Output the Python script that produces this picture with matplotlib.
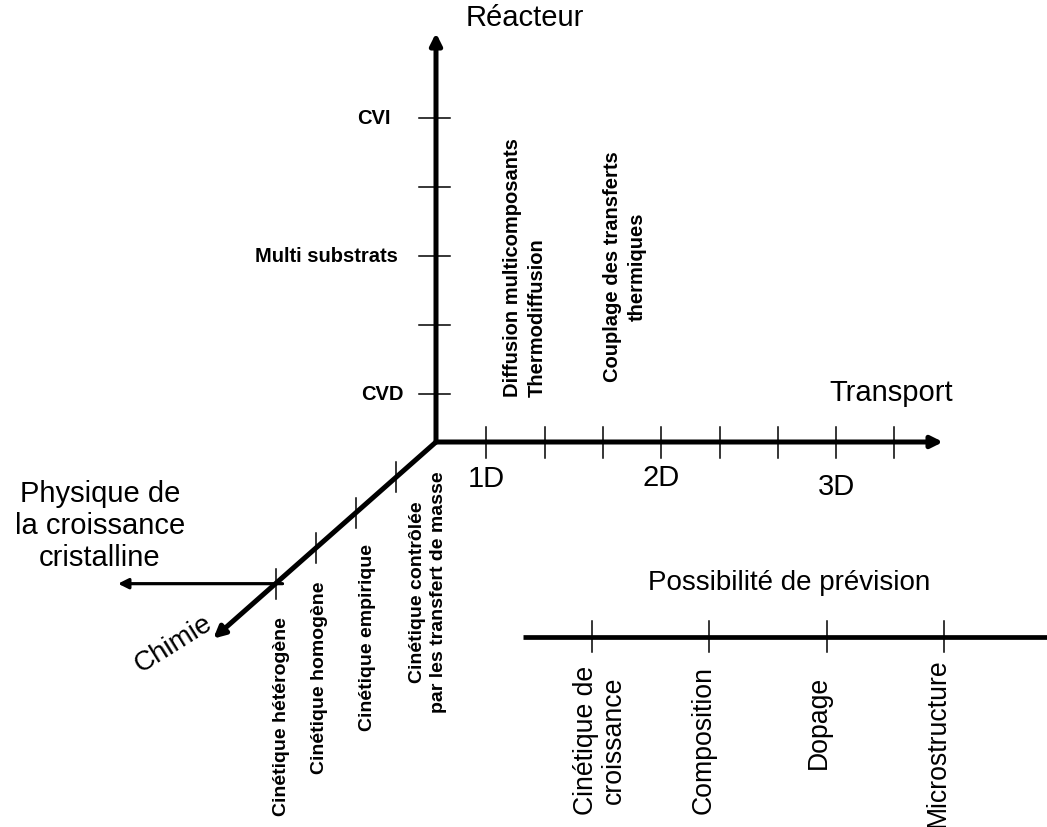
import numpy as np
import matplotlib
matplotlib.use("Agg")
import matplotlib.pyplot as plt

plt.rcParams['font.family'] = ['Liberation Sans', 'DejaVu Sans']

# axis labels (reading order along each axis, starting from the origin)
reacteur_ticks = [1, 2, 3, 4, 5]
reacteur_labels = ['CVD', '', 'Multi substrats', '', 'CVI']
transport_ticks = [1, 2, 3, 4, 5, 6, 7, 8]
transport_labels = ['1D', '', '', '2D', '', '', '3D', '']
chimie_ticks = [1, 2, 3, 4]
chimie_labels = ['Cinétique contrôlée\npar les transfert de masse', 'Cinétique empirique',
                 'Cinétique homogène', 'Cinétique hétérogène']
transport_notes = ['Diffusion multicomposants\nThermodiffusion',
                   'Couplage des transferts\nthermiques']
prevision_ticks = [1, 2, 3, 4]
prevision_labels = ['Cinétique de\ncroissance', 'Composition', 'Dopage', 'Microstructure']

W, H = 1047, 828
origin = np.array([436.0, 443.0])


def arrow(ax, start, end, lw, ms):
    ax.annotate('', xy=end, xytext=start,
                arrowprops=dict(arrowstyle='-|>', lw=lw, color='k',
                                mutation_scale=ms, shrinkA=0, shrinkB=0))


def draw_axes(ax):
    # Réacteur (vertical)
    arrow(ax, origin, (origin[0], 34), 3.6, 17)
    ry = origin[1] - (-21 + 69 * np.array(reacteur_ticks))
    for y in ry:
        ax.plot([origin[0] - 17, origin[0] + 14], [y, y], color='k', lw=1.1)
    label_right = [404, None, 398, None, 391]
    for y, lab, xr in zip(ry, reacteur_labels, label_right):
        if lab:
            ax.text(xr, y, lab, ha='right', va='center', fontsize=14.5, fontweight='bold')
    ax.text(525, 18, 'Réacteur', ha='center', va='center', fontsize=21)

    # Transport (horizontal)
    arrow(ax, origin, (943, origin[1]), 3.6, 17)
    tx = origin[0] + (-8 + 58.3 * np.array(transport_ticks))
    for x in tx:
        ax.plot([x, x], [origin[1] - 15, origin[1] + 16], color='k', lw=1.1)
    label_y = [479, None, None, 478, None, None, 487, None]
    for x, lab, y in zip(tx, transport_labels, label_y):
        if lab:
            ax.text(x, y, lab, ha='center', va='center', fontsize=21)
    ax.text(891, 393, 'Transport', ha='center', va='center', fontsize=21)
    ax.text(525, 397, transport_notes[0], rotation=90, ha='center', va='bottom',
            multialignment='left', fontsize=14.5, fontweight='bold', linespacing=1.4)
    ax.text(625, 267, transport_notes[1], rotation=90, ha='center', va='center',
            multialignment='center', fontsize=14.5, fontweight='bold', linespacing=1.4)

    # Chimie (diagonal)
    d = np.array([-0.75, 0.662])
    tip = origin + d * 297
    arrow(ax, origin, tip, 3.6, 17)
    cpts = [origin + d * 53.5 * t for t in chimie_ticks]
    for p in cpts:
        ax.plot([p[0], p[0]], [p[1] - 15, p[1] + 15], color='k', lw=1.1)
    # Physique de la croissance cristalline leaves from the last tick
    last = cpts[-1]
    ax.plot([last[0] - 20, last[0] + 7], [last[1], last[1]], color='k', lw=1.1)
    arrow(ax, (last[0] + 7, last[1]), (118, last[1]), 2.3, 15)
    ax.text(100, 526, 'Physique de\nla croissance\ncristalline', ha='center', va='center',
            fontsize=21, linespacing=1.2)
    ax.text(174, 644, 'Chimie', rotation=32, ha='center', va='center', fontsize=20)
    label_pos = [(428, 592), (368, 638), (320, 678), (282, 717)]
    for (x, y), lab in zip(label_pos, chimie_labels):
        ax.text(x, y, lab, rotation=90, ha='center', va='center', multialignment='center',
                fontsize=14, fontweight='bold', linespacing=1.35)


def draw_prevision(ax):
    y0 = 638
    ax.plot([523, W], [y0, y0], color='k', lw=3.4, solid_capstyle='butt')
    px = 592 + 117.3 * (np.array(prevision_ticks) - 1)
    for x in px:
        ax.plot([x, x], [y0 - 16, y0 + 15], color='k', lw=1.1)
    ax.text(789, 583, 'Possibilité de prévision', ha='center', va='center', fontsize=20)
    label_pos = [(600, 740), (704, 740), (819, 722), (938, 743)]
    for (x, y), lab in zip(label_pos, prevision_labels):
        ax.text(x, y, lab, rotation=90, ha='center', va='center', multialignment='center',
                fontsize=19.2, linespacing=1.1)


def main():
    fig = plt.figure(figsize=(W / 100, H / 100), dpi=100)
    ax = fig.add_axes([0, 0, 1, 1])
    ax.set_xlim(0, W)
    ax.set_ylim(H, 0)
    ax.axis('off')
    draw_axes(ax)
    draw_prevision(ax)
    fig.savefig('out.png', dpi=100, facecolor='white')


if __name__ == "__main__":
    main()
